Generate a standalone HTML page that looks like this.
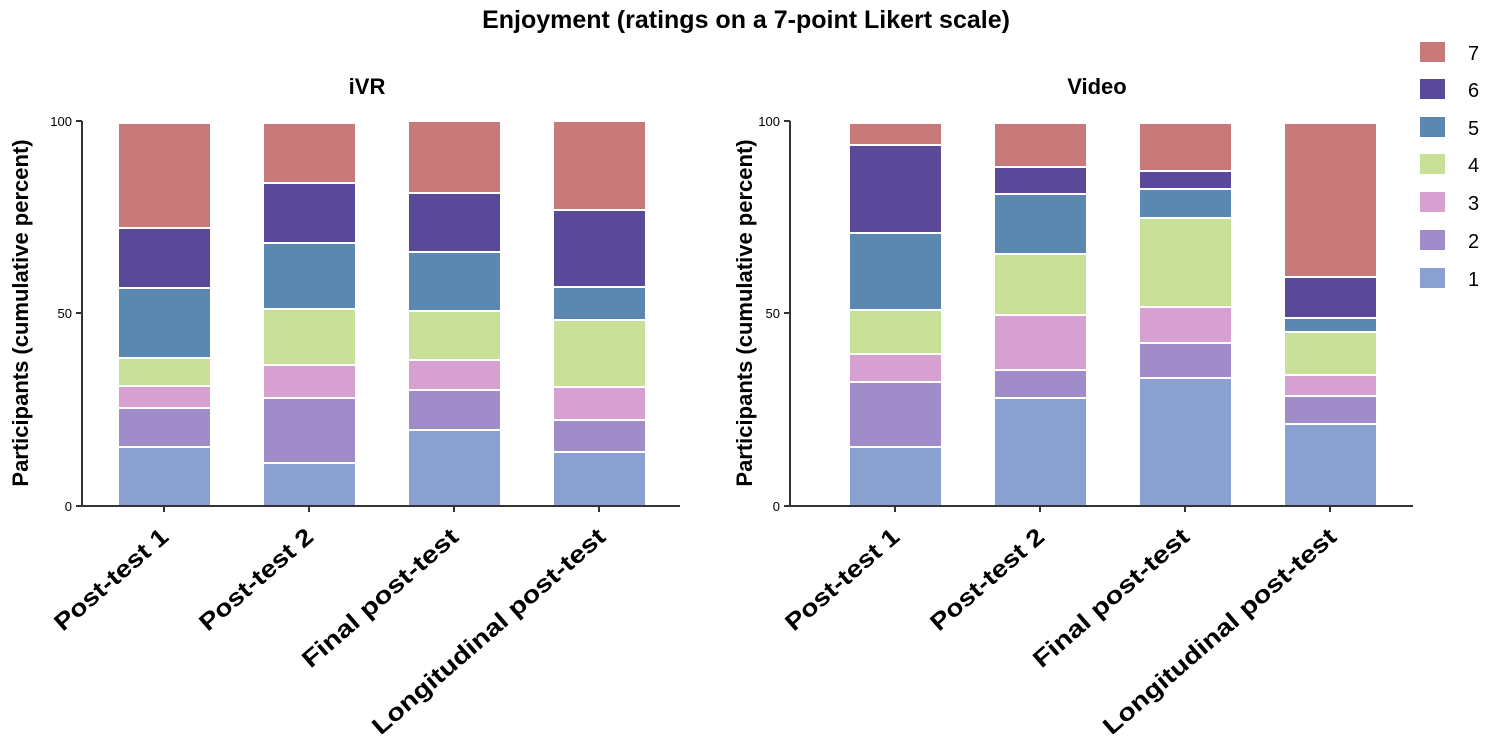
<!DOCTYPE html>
<html><head><meta charset="utf-8"><style>body{margin:0;background:#fff}</style></head><body>
<svg width="1492" height="734" xmlns="http://www.w3.org/2000/svg" font-family="Liberation Sans, sans-serif" font-weight="bold">
<rect width="1492" height="734" fill="#fff"/>
<text x="746" y="28" text-anchor="middle" font-size="25">Enjoyment (ratings on a 7-point Likert scale)</text>
<text x="367" y="94" text-anchor="middle" font-size="22">iVR</text>
<text x="1097" y="94" text-anchor="middle" font-size="22">Video</text>
<g id="bars" stroke="#fff" stroke-width="2">
<g>
<rect x="118" y="447" width="93" height="59" fill="#8aa0d0"/><rect x="118" y="408" width="93" height="39" fill="#a08cc8"/><rect x="118" y="386" width="93" height="22" fill="#d6a0d0"/><rect x="118" y="358" width="93" height="28" fill="#c8e09a"/><rect x="118" y="288" width="93" height="70" fill="#5a88b0"/><rect x="118" y="228" width="93" height="60" fill="#5a4898"/><rect x="118" y="123" width="93" height="105" fill="#c87a7a"/>
<rect x="263" y="463" width="93" height="43" fill="#8aa0d0"/><rect x="263" y="398" width="93" height="65" fill="#a08cc8"/><rect x="263" y="365" width="93" height="33" fill="#d6a0d0"/><rect x="263" y="309" width="93" height="56" fill="#c8e09a"/><rect x="263" y="243" width="93" height="66" fill="#5a88b0"/><rect x="263" y="183" width="93" height="60" fill="#5a4898"/><rect x="263" y="123" width="93" height="60" fill="#c87a7a"/>
<rect x="408" y="430" width="93" height="76" fill="#8aa0d0"/><rect x="408" y="390" width="93" height="40" fill="#a08cc8"/><rect x="408" y="360" width="93" height="30" fill="#d6a0d0"/><rect x="408" y="311" width="93" height="49" fill="#c8e09a"/><rect x="408" y="252" width="93" height="59" fill="#5a88b0"/><rect x="408" y="193" width="93" height="59" fill="#5a4898"/><rect x="408" y="121" width="93" height="72" fill="#c87a7a"/>
<rect x="553" y="452" width="93" height="54" fill="#8aa0d0"/><rect x="553" y="420" width="93" height="32" fill="#a08cc8"/><rect x="553" y="387" width="93" height="33" fill="#d6a0d0"/><rect x="553" y="320" width="93" height="67" fill="#c8e09a"/><rect x="553" y="287" width="93" height="33" fill="#5a88b0"/><rect x="553" y="210" width="93" height="77" fill="#5a4898"/><rect x="553" y="121" width="93" height="89" fill="#c87a7a"/>
</g>
<g>
<rect x="849" y="447" width="93" height="59" fill="#8aa0d0"/><rect x="849" y="382" width="93" height="65" fill="#a08cc8"/><rect x="849" y="354" width="93" height="28" fill="#d6a0d0"/><rect x="849" y="310" width="93" height="44" fill="#c8e09a"/><rect x="849" y="233" width="93" height="77" fill="#5a88b0"/><rect x="849" y="145" width="93" height="88" fill="#5a4898"/><rect x="849" y="123" width="93" height="22" fill="#c87a7a"/>
<rect x="994" y="398" width="93" height="108" fill="#8aa0d0"/><rect x="994" y="370" width="93" height="28" fill="#a08cc8"/><rect x="994" y="315" width="93" height="55" fill="#d6a0d0"/><rect x="994" y="254" width="93" height="61" fill="#c8e09a"/><rect x="994" y="194" width="93" height="60" fill="#5a88b0"/><rect x="994" y="167" width="93" height="27" fill="#5a4898"/><rect x="994" y="123" width="93" height="44" fill="#c87a7a"/>
<rect x="1139" y="378" width="93" height="128" fill="#8aa0d0"/><rect x="1139" y="343" width="93" height="35" fill="#a08cc8"/><rect x="1139" y="307" width="93" height="36" fill="#d6a0d0"/><rect x="1139" y="218" width="93" height="89" fill="#c8e09a"/><rect x="1139" y="189" width="93" height="29" fill="#5a88b0"/><rect x="1139" y="171" width="93" height="18" fill="#5a4898"/><rect x="1139" y="123" width="93" height="48" fill="#c87a7a"/>
<rect x="1284" y="424" width="93" height="82" fill="#8aa0d0"/><rect x="1284" y="396" width="93" height="28" fill="#a08cc8"/><rect x="1284" y="375" width="93" height="21" fill="#d6a0d0"/><rect x="1284" y="332" width="93" height="43" fill="#c8e09a"/><rect x="1284" y="318" width="93" height="14" fill="#5a88b0"/><rect x="1284" y="277" width="93" height="41" fill="#5a4898"/><rect x="1284" y="123" width="93" height="154" fill="#c87a7a"/>
</g>
</g>
<g stroke="#333" stroke-width="2" fill="none">
<path d="M82 121V506H680M76 121H82M76 313H82M76 506H82"/>
<path d="M790 121V506H1413M784 121H790M784 313H790M784 506H790"/>
<path d="M164 506v6M309 506v6M454 506v6M599 506v6M895 506v6M1040 506v6M1185 506v6M1330 506v6"/>
</g>
<g font-size="13" font-weight="normal" text-anchor="end">
<text x="72" y="126">100</text><text x="72" y="318">50</text><text x="72" y="511">0</text>
<text x="780" y="126">100</text><text x="780" y="318">50</text><text x="780" y="511">0</text>
</g>
<text transform="translate(28,313) rotate(-90)" text-anchor="middle" font-size="22">Participants (cumulative percent)</text>
<text transform="translate(752,313) rotate(-90)" text-anchor="middle" font-size="22">Participants (cumulative percent)</text>
<g font-size="24" text-anchor="end">
<text transform="translate(170,539) rotate(-41)" textLength="142" lengthAdjust="spacingAndGlyphs">Post-test 1</text>
<text transform="translate(315,539) rotate(-41)" textLength="142" lengthAdjust="spacingAndGlyphs">Post-test 2</text>
<text transform="translate(460,539) rotate(-41)" textLength="198" lengthAdjust="spacingAndGlyphs">Final post-test</text>
<text transform="translate(607,539) rotate(-41)" textLength="300" lengthAdjust="spacingAndGlyphs">Longitudinal post-test</text>
<text transform="translate(901,539) rotate(-41)" textLength="142" lengthAdjust="spacingAndGlyphs">Post-test 1</text>
<text transform="translate(1046,539) rotate(-41)" textLength="142" lengthAdjust="spacingAndGlyphs">Post-test 2</text>
<text transform="translate(1191,539) rotate(-41)" textLength="198" lengthAdjust="spacingAndGlyphs">Final post-test</text>
<text transform="translate(1338,539) rotate(-41)" textLength="300" lengthAdjust="spacingAndGlyphs">Longitudinal post-test</text>
</g>
<g font-size="20" font-weight="normal">
<rect x="1420" y="42" width="25" height="20" fill="#c87a7a"/><text x="1468" y="60">7</text>
<rect x="1420" y="79" width="25" height="20" fill="#5a4898"/><text x="1468" y="97">6</text>
<rect x="1420" y="117" width="25" height="20" fill="#5a88b0"/><text x="1468" y="135">5</text>
<rect x="1420" y="154" width="25" height="20" fill="#c8e09a"/><text x="1468" y="172">4</text>
<rect x="1420" y="192" width="25" height="20" fill="#d6a0d0"/><text x="1468" y="210">3</text>
<rect x="1420" y="230" width="25" height="20" fill="#a08cc8"/><text x="1468" y="248">2</text>
<rect x="1420" y="268" width="25" height="20" fill="#8aa0d0"/><text x="1468" y="286">1</text>
</g>
</svg>
</body></html>
